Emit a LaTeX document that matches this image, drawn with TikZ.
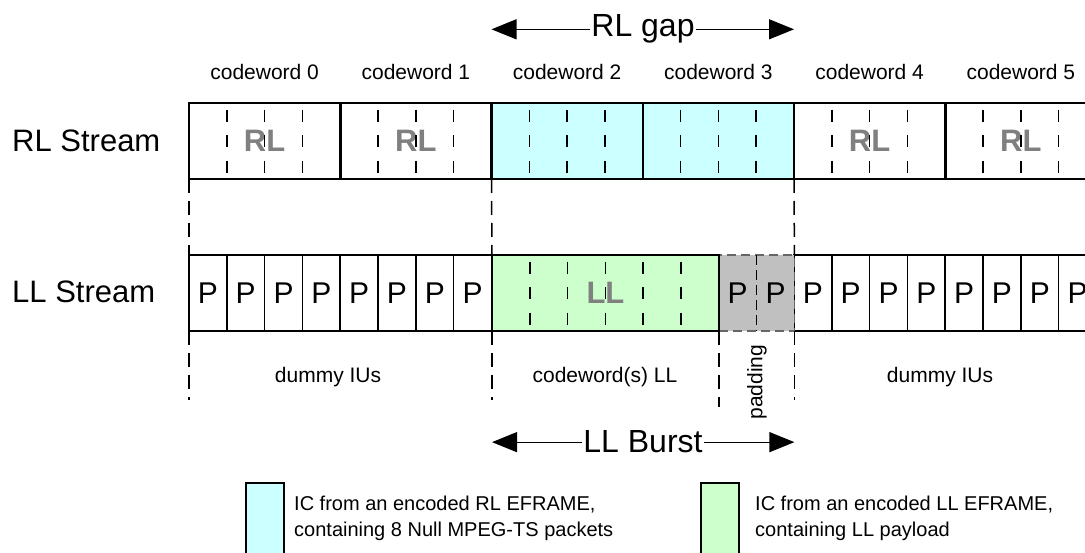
\documentclass[tikz,border=0pt]{standalone}
\usepackage{fontspec}
\setmainfont{Liberation Sans}
\usepackage{xcolor}
\usepackage{tikz}
\usetikzlibrary{positioning,arrows.meta,calc}

\definecolor{rlcyan}{HTML}{CCFFFF}
\definecolor{llgreen}{HTML}{CCFFCC}
\definecolor{padgray}{HTML}{C0C0C0}
\definecolor{txtgray}{HTML}{808080}

\begin{document}
\begin{tikzpicture}[
    x=1pt, y=-1pt,
    cwbox/.style={rectangle, draw=black, line width=2.5pt, minimum width=151.25pt, minimum height=76pt, inner sep=0pt, outer sep=0pt},
    pcell/.style={rectangle, draw=black, line width=1.6pt, minimum width=37.8pt, minimum height=76pt, inner sep=0pt, outer sep=0pt, font=\fontsize{30}{36}\selectfont},
    cwlabel/.style={inner sep=0pt, font=\fontsize{21}{25}\selectfont},
    legtext/.style={inner sep=0pt, align=left, anchor=north west, font=\fontsize{20}{26}\selectfont},
    biglabel/.style={inner sep=1pt, font=\fontsize{32}{38}\selectfont},
    streamlabel/.style={inner sep=0pt, anchor=base west, font=\fontsize{31}{37}\selectfont},
    graytag/.style={text=txtgray, font=\fontsize{31}{37}\selectfont\bfseries},
    innerdash/.style={line width=1.6pt, dash pattern=on 12pt off 13.5pt},
    guide/.style={line width=1.5pt, dash pattern=on 14pt off 8pt},
    bigarrow/.style={-{Triangle[length=25pt,width=20pt]}, line width=1.2pt},
    legbox/.style={rectangle, draw=black, line width=2pt, minimum width=38pt, minimum height=120pt, anchor=north west}
]
\useasboundingbox (0,0) rectangle (1085,553);
\clip (0,0) rectangle (1085,553);

% stream names
\node[streamlabel] (rlname) at (12,152) {RL Stream};
\node[streamlabel] (llname) at (12,303) {LL Stream};

% RL stream: codewords
\foreach \i in {0,1,4,5} {
  \node[cwbox] (cw\i) at ({264.625+151.25*\i},141) {};
  \node[graytag] (rl\i) at (cw\i) {RL};
}
\foreach \i in {2,3} {
  \node[cwbox, fill=rlcyan] (cw\i) at ({264.625+151.25*\i},141) {};
}
\foreach \i in {0,...,5} {
  \node[cwlabel, above=23pt of cw\i] (cwl\i) {codeword \i};
  \foreach \j in {1,2,3}
    \draw[innerdash] ({189+151.25*\i+37.8125*\j},110) -- ++(0,63);
}

% LL stream: dummy IUs
\foreach \k in {0,...,7} {
  \node[pcell] (pa\k) at ({207.9+37.8125*\k},293) {P};
  \node[pcell] (pb\k) at ({812.9+37.8125*\k},293) {P};
}

% padding
\node[pcell, fill=padgray, draw=black!60, dash pattern=on 9pt off 5pt, minimum width=75.6pt] (pad) at (756.6,293) {};
\node[pcell, draw=none] (pad1) at (737.7,293) {P};
\node[pcell, draw=none] (pad2) at (775.5,293) {P};
\draw[line width=1.4pt, dash pattern=on 10pt off 5pt] (pad.north) -- (pad.south);

% LL codewords
\node[pcell, fill=llgreen, line width=2.5pt, minimum width=226.9pt] (ll) at (605.45,293) {};
\node[graytag] (lltag) at (ll) {LL};
\foreach \j in {1,...,5}
  \draw[innerdash] ({492+37.8125*\j},262) -- ++(0,63);

% guides between the rows
\draw[guide] (cw0.south west) -- (pa0.north west);
\draw[guide] (cw2.south west) -- (ll.north west);
\draw[guide] (cw3.south east) -- (pad.north east);

% guides below
\coordinate (gbot) at (0,400);
\coordinate (gpad) at (0,407);
\draw[guide] (pa0.south west) -- (pa0.south west |- gbot);
\draw[guide] (ll.south west) -- (ll.south west |- gbot);
\draw[guide] (pad.south west) -- (pad.south west |- gpad);
\draw[guide] (pad.south east) -- (pad.south east |- gbot);

\node[cwlabel, anchor=base] (dummyl) at (328,383) {dummy IUs};
\node[cwlabel, anchor=base] (cwll) at (605,383) {codeword(s) LL};
\node[cwlabel, rotate=90] (padl) at (757,382) {padding};
\node[cwlabel, anchor=base] (dummyr) at (940,383) {dummy IUs};

% RL gap
\node[biglabel, anchor=base] (rlgap) at (643,37) {RL gap};
\draw[bigarrow] (rlgap.west) -- (cw2.north west |- rlgap.west);
\draw[bigarrow] (rlgap.east) -- (cw3.north east |- rlgap.east);

% LL Burst
\node[biglabel, anchor=base] (llburst) at (643,453) {LL Burst};
\draw[bigarrow] (llburst.west) -- (ll.south west |- llburst.west);
\draw[bigarrow] (llburst.east) -- (pad.south east |- llburst.east);

% legend
\node[legbox, fill=rlcyan] (legrl) at (245,482) {};
\node[legtext] (legrltxt) at (294,496) {IC from an encoded RL EFRAME,\\containing 8 Null MPEG-TS packets};
\node[legbox, fill=llgreen] (legll) at (700,482) {};
\node[legtext] (legtxtll) at (755,496) {IC from an encoded LL EFRAME,\\containing LL payload};

\end{tikzpicture}
\end{document}
